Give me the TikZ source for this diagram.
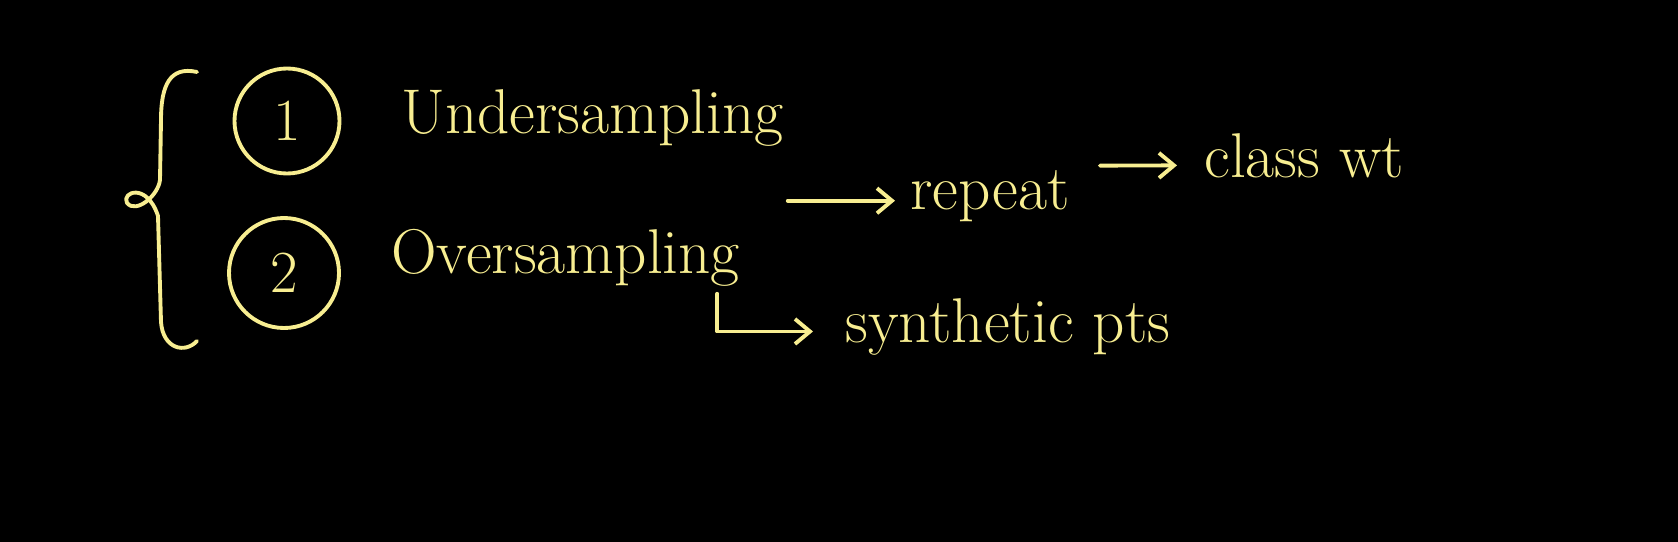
\documentclass[tikz,border=0pt]{standalone}
\usetikzlibrary{arrows.meta}
\definecolor{chalk}{RGB}{248,238,145}
\tikzstyle{word} = [inner sep=0pt, anchor=base west, text=chalk, font=\fontsize{36}{40}\selectfont]
\tikzstyle{num} = [circle, draw=chalk, line width=2.2pt, minimum size=21mm, inner sep=0pt, text=chalk, font=\fontsize{34}{40}\selectfont]
\tikzstyle{pen} = [draw=chalk, line width=2.2pt, line cap=round, line join=round]
\tikzstyle{arr} = [pen, -{Straight Barb[length=3mm, width=5mm]}]

\begin{document}
\begin{tikzpicture}[x=0.2mm, y=-0.2mm]
\fill[black] (0,0) rectangle (1678,542);
\useasboundingbox (0,0) rectangle (1678,542);
\node[num] (one) at (287,121) {1};
\node[num, minimum size=22mm] (two) at (284,273) {2};
\node[word] (und) at (401,134) {Undersampling};
\node[word] (over) at (391,273) {Oversampling};
\node[word] (rep) at (910,209) {repeat};
\node[word] (cls) at (1204,177) {class wt};
\node[word] (syn) at (845,342) {synthetic pts};
\draw[pen] (197,72) .. controls (170,66) and (161,85) .. (161,120) -- (160,180)
    .. controls (158,196) and (136,214) .. (127,203)
    .. controls (121,192) and (147,182) .. (158,216) -- (161,322)
    .. controls (163,349) and (185,354) .. (197,341);
\draw[arr, shorten <=9.5mm, shorten >=3mm] ([yshift=-1mm]over.east |- rep.center) -- ([yshift=-1mm]rep.west);
\draw[arr, shorten <=6mm, shorten >=5.4mm] ([yshift=6mm]rep.east) -- ([yshift=-2mm]cls.west);
\draw[arr, shorten >=6.4mm] ([xshift=-4.6mm, yshift=-1.5mm]over.south east) |- ([yshift=-1mm]syn.west);
\end{tikzpicture}
\end{document}
